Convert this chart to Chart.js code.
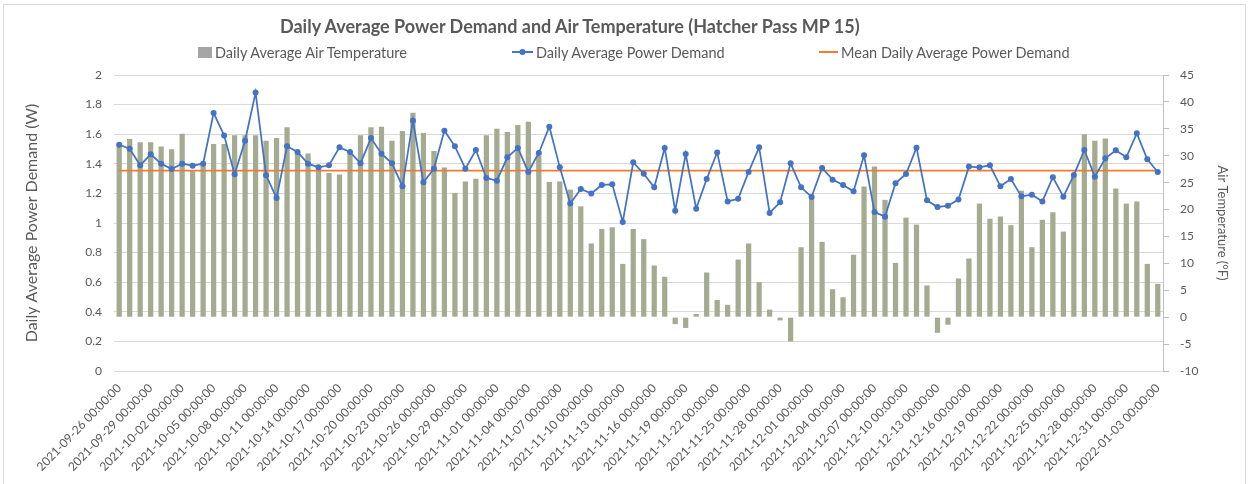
<!DOCTYPE html>
<html>
<head>
<meta charset="utf-8">
<script src="https://cdn.jsdelivr.net/npm/chart.js@4.4.1/dist/chart.umd.min.js"></script>
<style>
  html, body { margin: 0; padding: 0; background: #ffffff; }
  #wrap { position: relative; width: 1251px; height: 484px; overflow: hidden; }
  #frame { position: absolute; left: 3px; top: 4px; width: 1243px; height: 500px; border: 1px solid #d9d9d9; box-sizing: border-box; }
  #c { position: absolute; left: 0; top: 0; }
  #title { position: absolute; left: 280px; top: 14px; font: bold 18px Lato, "Open Sans", sans-serif; color: #595959; white-space: nowrap; line-height: 24px; }
  .leg { position: absolute; top: 43px; height: 18px; display: flex; align-items: center; font: 14.5px Lato, "Open Sans", sans-serif; color: #595959; white-space: nowrap; }
  .leg canvas { margin-right: 3px; }
</style>
</head>
<body>
<div id="wrap">
  <div id="frame"></div>
  <canvas id="c" width="1251" height="484"></canvas>
  <div id="title">Daily Average Power Demand and Air Temperature (Hatcher Pass MP 15)</div>
  <div id="legend"></div>
</div>
<script>
// Daily series, one entry per day starting 2021-09-26
const startDate = '2021-09-26';
const dayCount = 100;

// Daily average power demand (W)
const powerDemand = [
  1.529, 1.502, 1.390, 1.464, 1.401, 1.365, 1.401, 1.387, 1.401, 1.743,
  1.592, 1.329, 1.556, 1.881, 1.322, 1.169, 1.518, 1.480, 1.401, 1.376,
  1.390, 1.511, 1.480, 1.403, 1.574, 1.468, 1.403, 1.248, 1.691, 1.275,
  1.367, 1.624, 1.518, 1.367, 1.493, 1.304, 1.286, 1.444, 1.507, 1.345,
  1.473, 1.651, 1.376, 1.131, 1.230, 1.200, 1.257, 1.261, 1.007, 1.410,
  1.333, 1.241, 1.507, 1.083, 1.466, 1.097, 1.297, 1.477, 1.146, 1.164,
  1.345, 1.511, 1.068, 1.140, 1.403, 1.241, 1.176, 1.372, 1.293, 1.257,
  1.214, 1.457, 1.074, 1.043, 1.268, 1.331, 1.509, 1.153, 1.108, 1.117,
  1.158, 1.381, 1.376, 1.390, 1.248, 1.297, 1.180, 1.191, 1.146, 1.309,
  1.178, 1.324, 1.493, 1.313, 1.437, 1.491, 1.444, 1.606, 1.430, 1.345
];

// Daily average air temperature (°F)
const airTemperature = [
  31.9, 33.1, 32.5, 32.5, 31.7, 31.2, 34.1, 27.1, 28.4, 32.2,
  32.2, 33.8, 33.8, 33.8, 32.8, 33.3, 35.3, 30.8, 30.4, 27.8,
  26.8, 26.5, 30.3, 33.8, 35.3, 35.4, 32.8, 34.6, 38.0, 34.2,
  30.9, 27.8, 23.1, 25.2, 25.7, 33.8, 35.0, 34.4, 35.7, 36.3,
  30.0, 25.1, 25.2, 23.7, 20.6, 13.7, 16.4, 16.7, 9.9, 16.4,
  14.5, 9.6, 7.5, -1.3, -2.0, 0.6, 8.3, 3.2, 2.3, 10.7,
  13.7, 6.5, 1.4, -0.6, -4.5, 13.0, 22.4, 14.0, 5.2, 3.7,
  11.6, 24.3, 28.0, 21.8, 10.1, 18.5, 17.2, 5.9, -2.9, -1.4,
  7.2, 10.9, 21.1, 18.3, 18.7, 17.1, 23.5, 13.0, 18.1, 19.5,
  15.9, 26.2, 34.0, 32.8, 33.2, 23.9, 21.1, 21.5, 9.9, 6.2
];

// Mean of the daily average power demand over the period (W)
const meanPowerDemand = 1.354;

// Axis ranges and tick steps
const powerAxis = { min: 0, max: 2, step: 0.2 };
const tempAxis = { min: -10, max: 45, step: 5 };
const labelEvery = 3;

// Category labels: "YYYY-MM-DD 00:00:00"
const categories = [];
{
  const d0 = new Date(startDate + 'T00:00:00Z');
  for (let i = 0; i < dayCount; i++) {
    const d = new Date(d0.getTime() + i * 86400000);
    categories.push(d.toISOString().slice(0, 10) + ' 00:00:00');
  }
}
const meanLine = categories.map(() => meanPowerDemand);

const FONT = 'Lato, "Open Sans", sans-serif';
const TXT = '#595959';
const BAR = '#a4ab90';
const BLUE = '#4472c4';
const ORANGE = '#ed7d31';

// Legend symbols drawn on small canvases
function symbol(w, h, draw) {
  const c = document.createElement('canvas');
  c.width = w; c.height = h;
  draw(c.getContext('2d'), w, h);
  return c;
}
const legendItems = [
  { left: 198, text: 'Daily Average Air Temperature',
    sym: symbol(14, 12, (g) => { g.fillStyle = '#a5a5a5'; g.fillRect(0, 1, 14, 11); }) },
  { left: 512, text: 'Daily Average Power Demand',
    sym: symbol(21, 12, (g, w) => {
      g.strokeStyle = BLUE; g.lineWidth = 2;
      g.beginPath(); g.moveTo(0, 6); g.lineTo(w, 6); g.stroke();
      g.fillStyle = BLUE; g.beginPath(); g.arc(w / 2, 6, 3, 0, Math.PI * 2); g.fill();
    }) },
  { left: 819, text: 'Mean Daily Average Power Demand',
    sym: symbol(19, 12, (g, w) => {
      g.strokeStyle = ORANGE; g.lineWidth = 2;
      g.beginPath(); g.moveTo(0, 6); g.lineTo(w, 6); g.stroke();
    }) }
];
const legendBox = document.getElementById('legend');
legendItems.forEach(it => {
  const el = document.createElement('div');
  el.className = 'leg';
  el.style.left = it.left + 'px';
  el.appendChild(it.sym);
  const span = document.createElement('span');
  span.textContent = it.text;
  el.appendChild(span);
  legendBox.appendChild(el);
});

new Chart(document.getElementById('c'), {
  data: {
    labels: categories,
    datasets: [
      {
        type: 'bar',
        label: 'Daily Average Air Temperature',
        data: airTemperature,
        yAxisID: 'yT',
        backgroundColor: BAR,
        borderWidth: 0,
        barPercentage: 0.5,
        categoryPercentage: 1.0,
        order: 3
      },
      {
        type: 'line',
        label: 'Daily Average Power Demand',
        data: powerDemand,
        yAxisID: 'yP',
        borderColor: BLUE,
        backgroundColor: BLUE,
        borderWidth: 1.75,
        pointRadius: 3,
        pointBorderWidth: 0,
        tension: 0,
        order: 1
      },
      {
        type: 'line',
        label: 'Mean Daily Average Power Demand',
        data: meanLine,
        yAxisID: 'yP',
        borderColor: ORANGE,
        backgroundColor: ORANGE,
        borderWidth: 1.75,
        pointRadius: 0,
        order: 2
      }
    ]
  },
  options: {
    responsive: false,
    animation: false,
    layout: { padding: { top: 75, left: 22, right: 7, bottom: 0 } },
    plugins: {
      tooltip: { enabled: false },
      title: { display: false },
      legend: { display: false }
    },
    scales: {
      x: {
        type: 'category',
        grid: { display: false },
        border: { display: false },
        // fixed band for the slanted date labels
        afterFit: scale => { scale.height = 113; },
        ticks: {
          autoSkip: false,
          minRotation: 46,
          maxRotation: 46,
          padding: 2,
          color: TXT,
          font: { family: FONT, size: 12 },
          callback: function (v, i) { return i % labelEvery === 0 ? this.getLabelForValue(v) : null; }
        }
      },
      yP: {
        position: 'left',
        min: powerAxis.min,
        max: powerAxis.max,
        grid: { color: '#d9d9d9', drawTicks: false, lineWidth: 1 },
        border: { display: false },
        ticks: {
          stepSize: powerAxis.step,
          padding: 12,
          color: TXT,
          font: { family: FONT, size: 12 },
          callback: v => String(Math.round(v * 10) / 10)
        },
        title: {
          display: true,
          text: 'Daily Average Power Demand (W)',
          color: TXT,
          font: { family: FONT, size: 16 },
          padding: { top: 0, bottom: 32 }
        }
      },
      yT: {
        position: 'right',
        min: tempAxis.min,
        max: tempAxis.max,
        grid: { drawOnChartArea: false, drawTicks: true, tickLength: 6, color: '#bfbfbf' },
        border: { display: true, color: '#bfbfbf' },
        ticks: {
          stepSize: tempAxis.step,
          padding: 11,
          color: TXT,
          font: { family: FONT, size: 12 }
        },
        title: {
          display: true,
          text: 'Air Temperature (°F)',
          color: TXT,
          font: { family: FONT, size: 13 },
          padding: { top: 14, bottom: 5 }
        }
      }
    }
  }
});
</script>
</body>
</html>
